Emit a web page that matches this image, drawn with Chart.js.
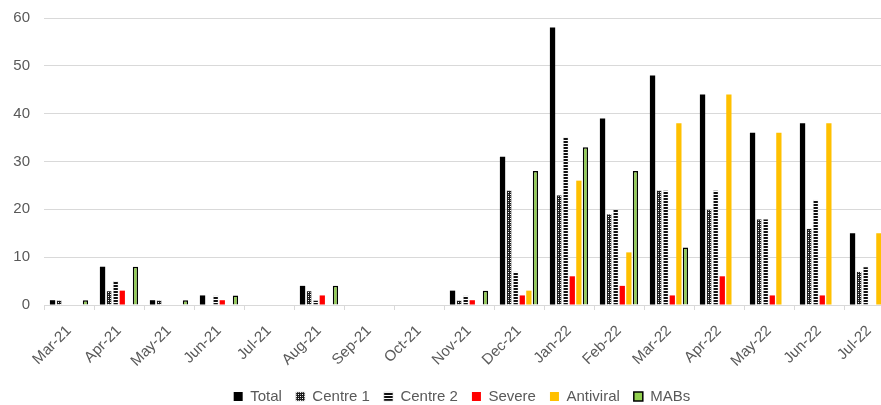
<!DOCTYPE html>
<html>
<head>
<meta charset="utf-8">
<script src="https://cdn.jsdelivr.net/npm/chart.js@4/dist/chart.umd.min.js"></script>
<style>
  html, body { margin: 0; padding: 0; background: #fff; overflow: hidden; }
  #wrap { width: 924px; height: 414px; }
</style>
</head>
<body>
<div id="wrap"><canvas id="c" width="924" height="414"></canvas></div>
<script>
const months = ['Mar-21','Apr-21','May-21','Jun-21','Jul-21','Aug-21','Sep-21','Oct-21','Nov-21','Dec-21',
                'Jan-22','Feb-22','Mar-22','Apr-22','May-22','Jun-22','Jul-22'];
const total     = [1, 8, 1, 2, 0, 4, 0, 0, 3, 31, 58, 39, 48, 44, 36, 38, 15];
const centre1   = [1, 3, 1, 0, 0, 3, 0, 0, 1, 24, 23, 19, 24, 20, 18, 16, 7];
const centre2   = [0, 5, 0, 2, 0, 1, 0, 0, 2, 7, 35, 20, 24, 24, 18, 22, 8];
const severe    = [0, 3, 0, 1, 0, 2, 0, 0, 1, 2, 6, 4, 2, 6, 2, 2, 0];
const antiviral = [0, 0, 0, 0, 0, 0, 0, 0, 0, 3, 26, 11, 38, 44, 36, 38, 15];
const mabs      = [1, 8, 1, 2, 0, 4, 0, 0, 3, 28, 33, 28, 12, 0, 0, 0, 0];
const yTicks    = [0, 10, 20, 30, 40, 50, 60];

// Fill patterns for the two centre series
function makePattern(w, h, paint) {
  const c = document.createElement('canvas');
  c.width = w; c.height = h;
  const g = c.getContext('2d');
  g.fillStyle = '#fff';
  g.fillRect(0, 0, w, h);
  paint(g);
  return g.createPattern(c, 'repeat');
}
const ctx = document.getElementById('c').getContext('2d');
// dark checker with light dots
const checker = makePattern(4, 4, g => {
  g.fillStyle = '#1a1a1a';
  g.fillRect(0, 0, 4, 4);
  g.fillStyle = '#ffffff';
  g.fillRect(0, 0, 1, 1);
  g.fillRect(2, 2, 1, 1);
  g.fillStyle = '#9a9a9a';
  g.fillRect(2, 0, 1, 1);
  g.fillRect(0, 2, 1, 1);
});
// horizontal stripes
const stripes = makePattern(3, 3, g => {
  g.fillStyle = '#111';
  g.fillRect(0, 0, 3, 2);
});

// Centre the legend on the full canvas rather than the padded box
const centreLegend = {
  id: 'centreLegend',
  afterLayout(chart) {
    const lg = chart.legend;
    if (lg) { lg.left += 15; lg.right += 15; }
  }
};

const font = "'Liberation Sans', Arial, sans-serif";
const grey = '#595959';

new Chart(ctx, {
  type: 'bar',
  data: {
    labels: months,
    datasets: [
      { label: 'Total',     data: total,     backgroundColor: '#000000' },
      { label: 'Centre 1',  data: centre1,   backgroundColor: checker, borderColor: '#c8c8c8', borderWidth: 0.5 },
      { label: 'Centre 2',  data: centre2,   backgroundColor: stripes, borderColor: '#c8c8c8', borderWidth: 0.5 },
      { label: 'Severe',    data: severe,    backgroundColor: '#FF0000' },
      { label: 'Antiviral', data: antiviral, backgroundColor: '#FFC000' },
      { label: 'MABs',      data: mabs,      backgroundColor: '#92D050', borderColor: '#000000', borderWidth: 1.5 }
    ]
  },
  plugins: [centreLegend],
  options: {
    responsive: false,
    animation: false,
    maintainAspectRatio: false,
    categoryPercentage: 0.79,
    barPercentage: 0.8,
    layout: { padding: { top: 18, right: 30, left: 0, bottom: 0 } },
    plugins: {
      tooltip: { enabled: false },
      legend: {
        position: 'bottom',
        labels: {
          font: { family: font, size: 15 },
          color: grey,
          boxWidth: 9,
          boxHeight: 9,
          padding: 14
        }
      }
    },
    scales: {
      x: {
        grid: {
          offset: true,
          drawOnChartArea: false,
          drawTicks: true,
          tickLength: 5,
          color: '#d9d9d9'
        },
        border: { display: true, color: '#d9d9d9', width: 1 },
        ticks: {
          font: { family: font, size: 15 },
          color: grey,
          minRotation: 45,
          maxRotation: 45,
          autoSkip: false,
          padding: 12
        },
        afterFit: s => { s.height = 70; }
      },
      y: {
        min: 0,
        max: 60,
        afterBuildTicks: s => { s.ticks = yTicks.map(v => ({ value: v })); },
        grid: { color: '#d9d9d9', lineWidth: 1, drawTicks: false },
        border: { display: false },
        ticks: {
          font: { family: font, size: 15 },
          color: grey,
          padding: 14
        },
        afterFit: s => { s.width = 44; s.paddingTop = 0; s.paddingBottom = 0; }
      }
    }
  }
});
</script>
</body>
</html>
